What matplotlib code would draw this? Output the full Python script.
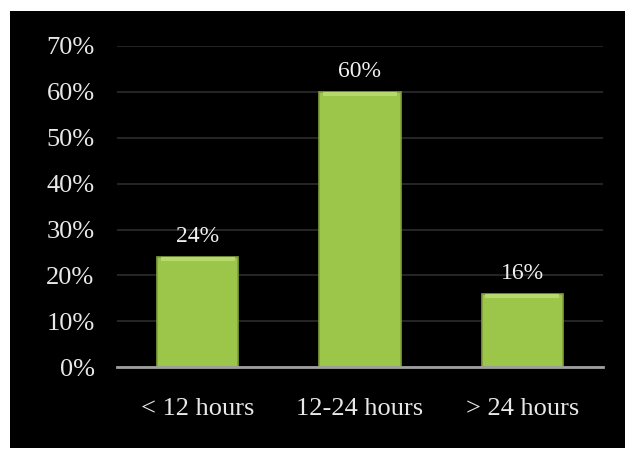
import matplotlib
matplotlib.use('Agg')

import matplotlib.pyplot as plt
from matplotlib.patches import Rectangle

categories = ['< 12 hours', '12-24 hours', '> 24 hours']
shares = [24, 60, 16]
labels = ['24%', '60%', '16%']
yticks = [0, 10, 20, 30, 40, 50, 60, 70]

plt.rcParams['font.family'] = ['Liberation Serif', 'DejaVu Serif']

fig = plt.figure(figsize=(6.31, 4.5), dpi=100)
fig.patch.set_facecolor('white')
# black slide background
fig.add_artist(Rectangle((0.016, 0.004), 0.974, 0.972, transform=fig.transFigure,
                         facecolor='black', edgecolor='none', zorder=0))

ax = fig.add_axes([0.185, 0.184, 0.771, 0.714])
ax.set_facecolor('black')
ax.patch.set_alpha(0)

x = range(len(categories))
bars = ax.bar(x, shares, width=0.5, color='#9cc64a', edgecolor='#7f9f38',
              linewidth=1.2, zorder=3)
# lighter bevel along the top of each bar
ax.bar(x, [0.9] * len(shares), bottom=[s - 0.9 for s in shares], width=0.46,
       color='#b6d86c', edgecolor='none', zorder=4)

for b, lab in zip(bars, labels):
    ax.annotate(lab, (b.get_x() + b.get_width() / 2, b.get_height()),
                xytext=(0, 7), textcoords='offset points', ha='center',
                va='bottom', color='#f0f0f0', fontsize=17)

ax.set_xlim(-0.5, 2.5)
ax.set_ylim(0, 70)
ax.set_yticks(yticks)
ax.set_yticklabels([f'{t}%' for t in yticks])
ax.set_xticks(list(x))
ax.set_xticklabels(categories)
ax.tick_params(axis='both', length=0, colors='#e8e8e8', labelsize=19)
ax.tick_params(axis='x', pad=22)
ax.tick_params(axis='y', pad=16)

ax.yaxis.grid(True, color='#2c2c2c', linewidth=1.2, zorder=1)
ax.set_axisbelow(True)
for side in ['top', 'right', 'left']:
    ax.spines[side].set_visible(False)
ax.spines['bottom'].set_color('#a0a0a0')
ax.spines['bottom'].set_linewidth(2)
ax.spines['bottom'].set_zorder(5)

plt.savefig('out.png', dpi=100, facecolor=fig.get_facecolor())
